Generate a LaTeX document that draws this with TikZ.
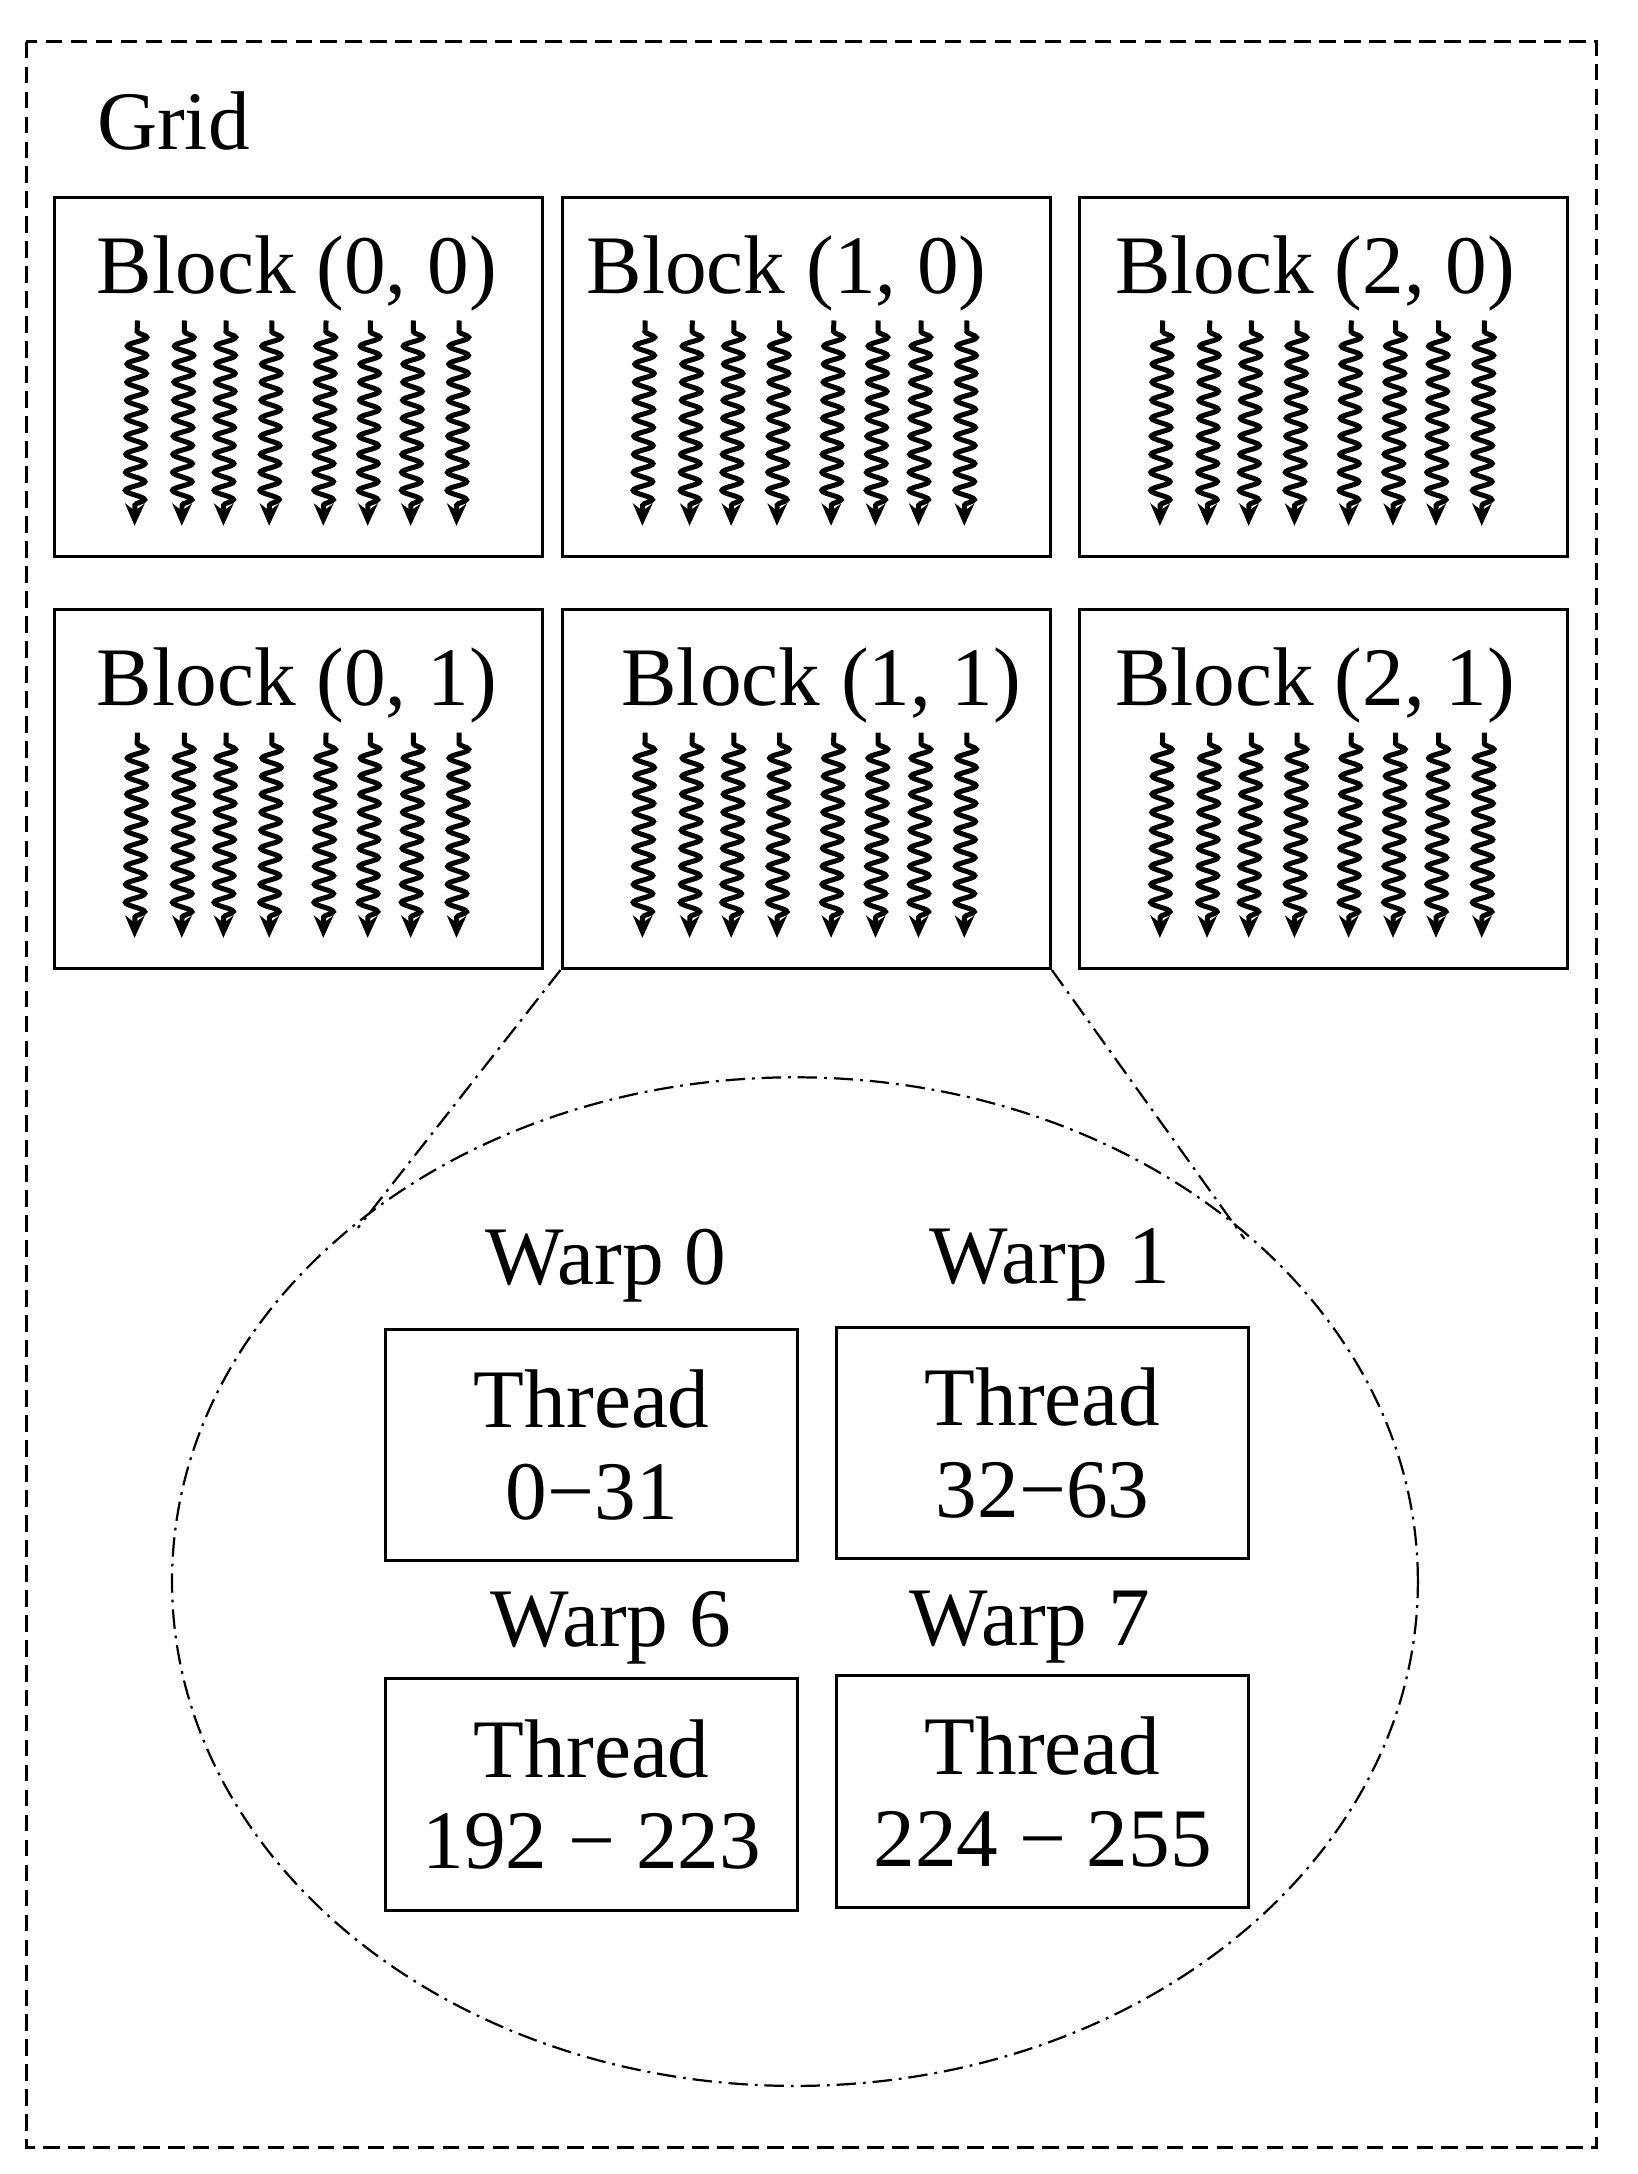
\documentclass[tikz,border=0pt]{standalone}
\usepackage{fontspec}
\setmainfont{Liberation Serif}
\usetikzlibrary{decorations.pathmorphing,arrows.meta,shapes.geometric}
\begin{document}
\begin{tikzpicture}[x=1pt,y=-1pt,
  box/.style={draw,line width=2.2pt},
  lbl/.style={font=\fontsize{60}{64}\selectfont,inner sep=0pt},
  thr/.style={line width=3.6pt,-{Stealth[length=16pt,width=14pt]},decorate,decoration={snake,amplitude=7pt,segment length=13pt,pre length=8pt,post length=14pt}},
  dd/.style={line width=1.6pt,dash pattern=on 14pt off 5pt on 2pt off 5pt}]
\useasboundingbox (0,0) rectangle (1180,1567);
\draw[line width=2pt,dash pattern=on 12pt off 6pt] (19,30) rectangle (1151,1548);
\node[lbl] (grid) at (125,87) {Grid};
\foreach \c/\x/\y/\lx/\nm in {0/38/141/214/b00,1/404/141/567/b10,2/777/141/948/b20,0/38/438/214/b01,1/404/438/592/b11,2/777/438/948/b21}{
  \node[box,minimum width=352pt,minimum height=259pt,anchor=north west,inner sep=0pt] (\nm) at (\x,\y) {};
  \node[lbl] (\nm l) at (\lx,\y+56) {Block (\c, \ifnum\y=141 0\else 1\fi)};
  \foreach \o [count=\i] in {-115,-81,-51,-18,21,53,84,117}{
    \coordinate (\nm s\i) at (\x+176+\o,\y+90);
    \coordinate (\nm e\i) at (\x+176+\o-2,\y+238);
    \draw[thr] (\nm s\i) -- (\nm e\i);
  }
}
\node[draw,dd,ellipse,minimum width=898pt,minimum height=727pt,inner sep=0pt] (ell) at (573,1140) {};
\coordinate (l1) at (258,885);
\coordinate (r1) at (897,893);
\draw[dd] (b11.south west) -- (l1);
\draw[dd] (b11.south east) -- (r1);
\node[lbl] (w0) at (437,912) {Warp 0};
\node[lbl] (w1) at (757,912) {Warp 1};
\node[lbl] (w6) at (440,1173) {Warp 6};
\node[lbl] (w7) at (742,1173) {Warp 7};
\tikzset{tb/.style={box,minimum width=297pt,minimum height=167pt,inner sep=0pt,align=center,font=\fontsize{60}{66}\selectfont}}
\node[tb] (t0) at (426.5,1041.5) {Thread\\0\symbol{"2212}31};
\node[tb] (t1) at (751.5,1040) {Thread\\32\symbol{"2212}63};
\node[tb] (t6) at (426.5,1293.5) {Thread\\192 \symbol{"2212} 223};
\node[tb] (t7) at (751.5,1291.5) {Thread\\224 \symbol{"2212} 255};
\end{tikzpicture}
\end{document}
